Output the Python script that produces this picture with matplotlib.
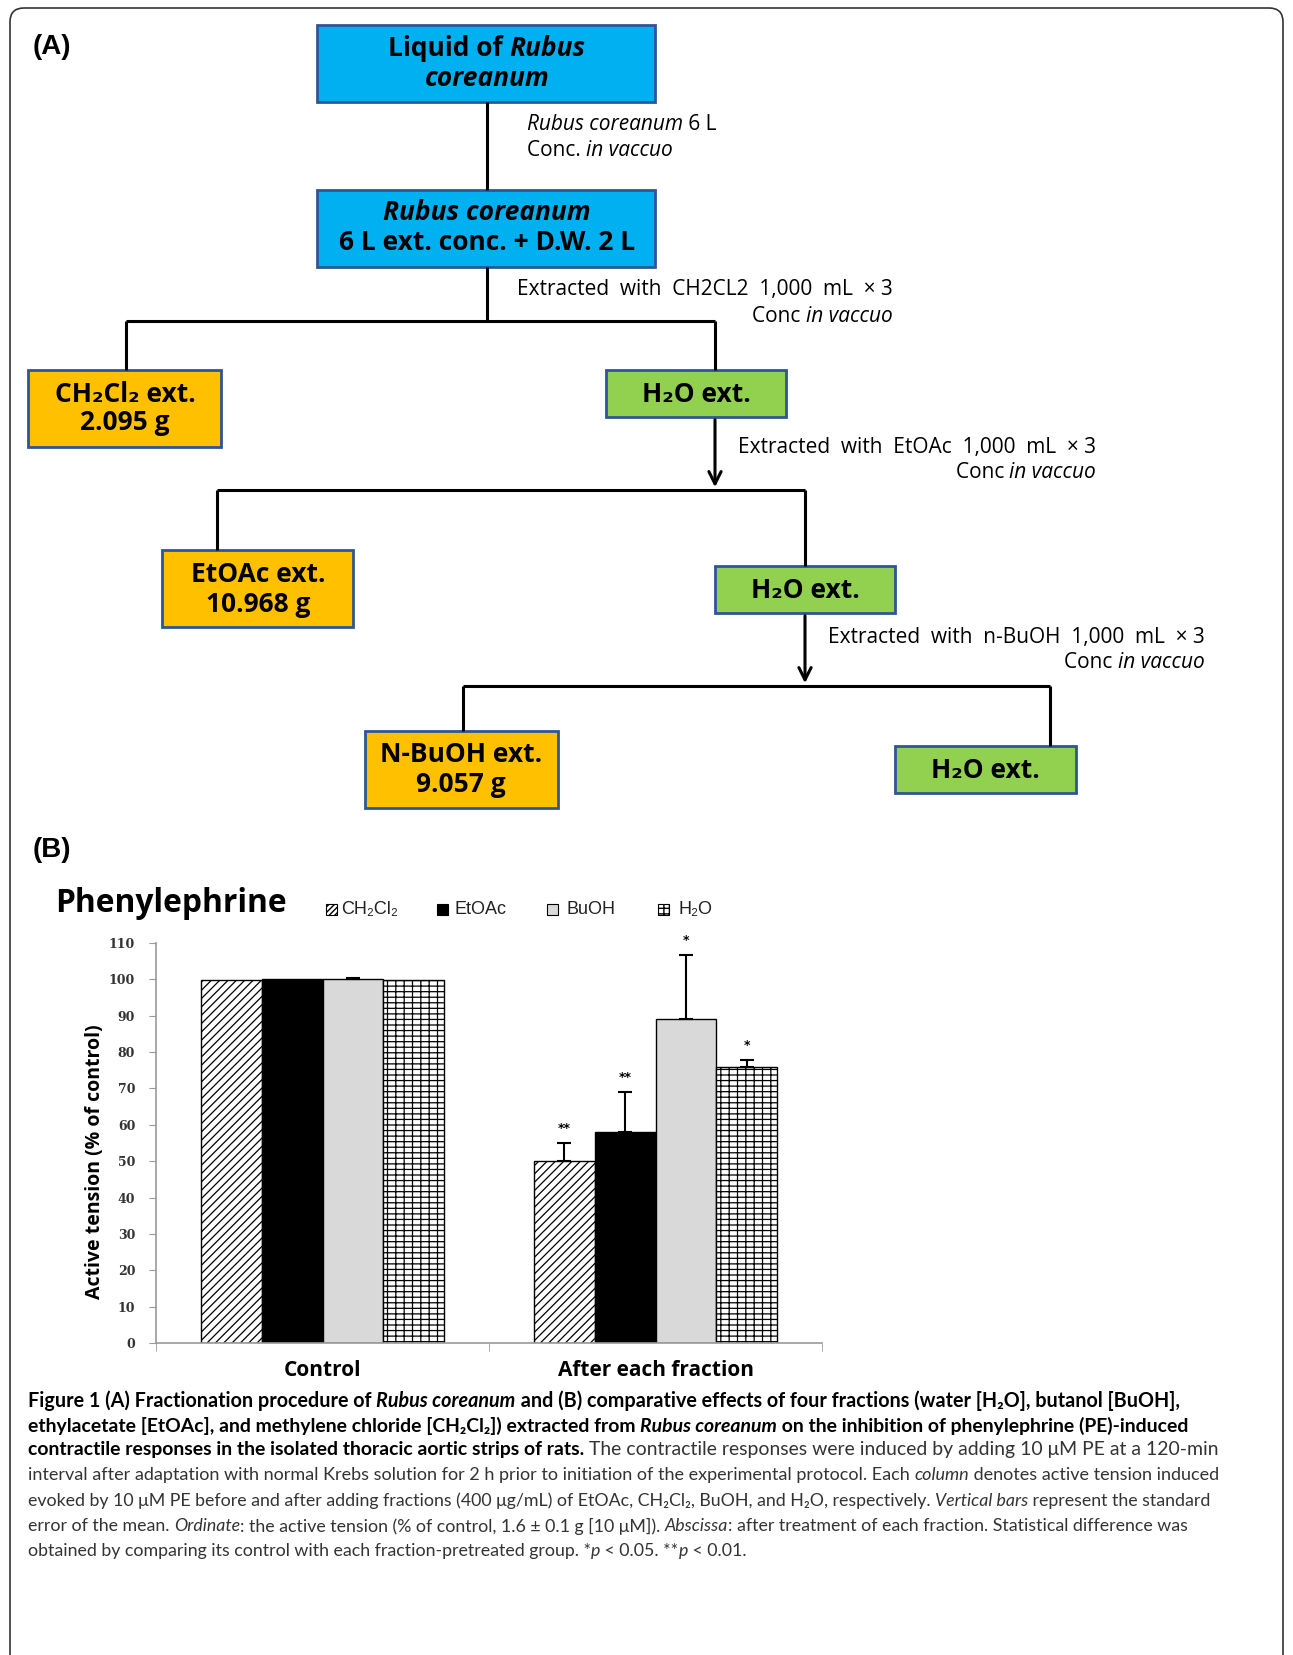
import matplotlib
matplotlib.use('Agg')
import matplotlib.pyplot as plt
from matplotlib.patches import Rectangle, FancyBboxPatch
from matplotlib import font_manager

# ---------------- data ----------------
fractions = ['CH₂Cl₂', 'EtOAc', 'BuOH', 'H₂O']
groups = ['Control', 'After each fraction']
control_vals = [99.8, 100.0, 100.0, 99.8]
control_err = [0.0, 0.0, 0.3, 0.0]
after_vals = [50.0, 58.0, 89.0, 76.0]
after_err = [5.0, 11.0, 17.7, 1.8]
after_sig = ['**', '**', '*', '*']
yticks = list(range(0, 111, 10))

ttf = font_manager.fontManager.ttflist
bold_names = set()
for f in ttf:
    w = f.weight
    if (isinstance(w, str) and w in ('bold', 'heavy', 'black', 'semibold', 'demibold')) or \
            (isinstance(w, (int, float)) and w >= 600):
        bold_names.add(f.name)


def pick(prefs):
    for p in prefs:
        if p in bold_names:
            return p
    return 'DejaVu Sans'


BOX_FONT = pick(['Open Sans', 'Lato', 'Roboto', 'Noto Sans', 'Liberation Sans'])
CAP_FONT = pick(['Liberation Sans Narrow', 'Lato', 'Roboto', 'Open Sans', 'Liberation Sans'])
TITLE_FONT = pick(['Open Sans', 'Lato', 'Roboto', 'Liberation Sans'])

W, H = 1293, 1655
fig = plt.figure(figsize=(W / 100, H / 100), dpi=100)
fig.patch.set_facecolor('white')
ov = fig.add_axes([0, 0, 1, 1])
ov.set_xlim(0, W)
ov.set_ylim(H, 0)
ov.axis('off')
renderer = fig.canvas.get_renderer()

B, I, BI, N = ('bold', 'normal'), ('normal', 'italic'), ('bold', 'italic'), ('normal', 'normal')


def seg_text(x, y, segs, size, family, ha='left', color='black', fit=None, colors=None):
    fam = [family, 'DejaVu Sans']

    def adv(s, st, sz):
        t1 = ov.text(0, 0, '|' + s + '|', fontsize=sz, fontweight=st[0], fontstyle=st[1], family=fam)
        t2 = ov.text(0, 0, '||', fontsize=sz, fontweight=st[0], fontstyle=st[1], family=fam)
        a = t1.get_window_extent(renderer).width - t2.get_window_extent(renderer).width
        t1.remove(); t2.remove()
        return a

    widths = [adv(s, st, size) for s, st in segs]
    total = sum(widths)
    if fit is not None:
        size = size * fit / total
        widths = [adv(s, st, size) for s, st in segs]
        total = sum(widths)
    if ha == 'left':
        cx = x
    elif ha == 'center':
        cx = x - total / 2
    else:
        cx = x - total
    for i, ((s, st), w) in enumerate(zip(segs, widths)):
        c = colors[i] if colors else color
        ov.text(cx, y, s, fontsize=size, fontweight=st[0], fontstyle=st[1], family=fam,
                ha='left', va='center', color=c)
        cx += w
    return size


# outer rounded border
ov.add_patch(FancyBboxPatch((10, 8), 1273, 1670, boxstyle='round,pad=0,rounding_size=14',
                            fc='none', ec='#333333', lw=1.2, clip_on=False))

# ---------------- (A) flowchart ----------------
BLUE, ORANGE, GREEN, EDGE = '#00B0F0', '#FFC000', '#92D050', '#2F5597'
LW = 2.2


def box(x0, y0, x1, y1, fc):
    ov.add_patch(Rectangle((x0, y0), x1 - x0, y1 - y0, fc=fc, ec=EDGE, lw=2))


def line(xs, ys):
    ov.plot(xs, ys, color='black', lw=LW, solid_capstyle='butt')


def arrow(x, y0, y1):
    ov.annotate('', xy=(x, y1), xytext=(x, y0),
                arrowprops=dict(arrowstyle='->', color='black', lw=LW, mutation_scale=22))


BS = 19
AS = 15
ov.text(33, 47, '(A)', fontsize=20, fontweight='bold', family='Liberation Sans', va='center')

box(317, 25, 655, 102, BLUE)
seg_text(487, 49, [('Liquid of ', B), ('Rubus', BI)], BS, BOX_FONT, ha='center')
seg_text(487, 78, [('coreanum', BI)], BS, BOX_FONT, ha='center')
line([487, 487], [102, 190])
seg_text(527, 124, [('Rubus coreanum', I), (' 6 L', N)], AS, BOX_FONT)
seg_text(527, 150, [('Conc. ', N), ('in vaccuo', I)], AS, BOX_FONT)

box(317, 190, 655, 267, BLUE)
seg_text(487, 213, [('Rubus coreanum', BI)], BS, BOX_FONT, ha='center')
seg_text(487, 242, [('6 L ext. conc. + D.W. 2 L', B)], BS, BOX_FONT, ha='center')

line([487, 487], [267, 321])
line([126, 715], [321, 321])
line([126, 126], [321, 370])
line([715, 715], [321, 370])
seg_text(893, 290, [('Extracted  with  CH2CL2  1,000  mL  × 3', N)], AS, BOX_FONT, ha='right')
seg_text(893, 316, [('Conc ', N), ('in vaccuo', I)], AS, BOX_FONT, ha='right')

box(28, 370, 221, 447, ORANGE)
seg_text(125, 394, [('CH₂Cl₂ ext.', B)], BS, BOX_FONT, ha='center')
seg_text(125, 423, [('2.095 g', B)], BS, BOX_FONT, ha='center')

box(606, 370, 786, 417, GREEN)
seg_text(696, 394, [('H₂O ext.', B)], BS, BOX_FONT, ha='center')

arrow(715, 417, 490)
line([217, 805], [490, 490])
line([217, 217], [490, 550])
line([805, 805], [490, 566])
seg_text(1096, 447, [('Extracted  with  EtOAc  1,000  mL  × 3', N)], AS, BOX_FONT, ha='right')
seg_text(1096, 473, [('Conc ', N), ('in vaccuo', I)], AS, BOX_FONT, ha='right')

box(162, 550, 353, 627, ORANGE)
seg_text(258, 575, [('EtOAc ext.', B)], BS, BOX_FONT, ha='center')
seg_text(258, 604, [('10.968 g', B)], BS, BOX_FONT, ha='center')

box(715, 566, 895, 613, GREEN)
seg_text(805, 590, [('H₂O ext.', B)], BS, BOX_FONT, ha='center')

arrow(805, 613, 686)
line([463, 1050], [686, 686])
line([463, 463], [686, 731])
line([1050, 1050], [686, 746])
seg_text(1205, 637, [('Extracted  with  n-BuOH  1,000  mL  × 3', N)], AS, BOX_FONT, ha='right')
seg_text(1205, 663, [('Conc ', N), ('in vaccuo', I)], AS, BOX_FONT, ha='right')

box(365, 731, 558, 808, ORANGE)
seg_text(461, 755, [('N-BuOH ext.', B)], BS, BOX_FONT, ha='center')
seg_text(461, 784, [('9.057 g', B)], BS, BOX_FONT, ha='center')

box(895, 746, 1076, 793, GREEN)
seg_text(985, 770, [('H₂O ext.', B)], BS, BOX_FONT, ha='center')

# ---------------- (B) bar chart ----------------
ov.text(33, 850, '(B)', fontsize=20, fontweight='bold', family='Liberation Sans', va='center')
seg_text(55, 903, [('Phenylephrine', B)], 24, TITLE_FONT, fit=232)

faces = ['white', 'black', '#D9D9D9', 'white']
hatches = ['////', '', '', '++-']
leg_hatches = ['//////', '', '', '+++']

leg_sq = [326, 437, 547, 658]
leg_tx = [341, 455, 567, 679]
for sx, tx, lab, fc, hh in zip(leg_sq, leg_tx, fractions, faces, leg_hatches):
    ov.add_patch(Rectangle((sx, 904), 11, 11, fc=fc, ec='black', lw=0.8,
                           hatch=hh if hh else None))
    ov.text(tx, 909, lab, fontsize=13, family=['Liberation Sans', 'DejaVu Sans'], va='center',
            color='#222222')

bx = fig.add_axes([156 / W, (H - 1343) / H, (822 - 156) / W, 400 / H])
bx.set_xlim(-0.5, 1.5)
bx.set_ylim(0, 110)
bw = 0.1825
offsets = [-1.5, -0.5, 0.5, 1.5]
plt.rcParams['hatch.linewidth'] = 0.9
for gi, (vals, errs) in enumerate([(control_vals, control_err), (after_vals, after_err)]):
    for k in range(4):
        xk = gi + offsets[k] * bw
        bx.bar(xk, vals[k], width=bw, color=faces[k], edgecolor='black', lw=1.0,
               hatch=hatches[k] if hatches[k] else None, zorder=2)
        if errs[k] > 0:
            bx.errorbar(xk, vals[k], yerr=[[0], [errs[k]]], fmt='none', ecolor='black',
                        elinewidth=1.5, capsize=5, capthick=1.5, zorder=3)
for k in range(4):
    xk = 1 + offsets[k] * bw
    bx.text(xk, after_vals[k] + after_err[k] + 2.2, after_sig[k], ha='center', va='bottom',
            fontsize=9, fontweight='bold', family='DejaVu Sans')

for s in ['top', 'right']:
    bx.spines[s].set_visible(False)
for s in ['left', 'bottom']:
    bx.spines[s].set_color('#999999')
    bx.spines[s].set_linewidth(1.2)
bx.set_yticks(yticks)
bx.set_yticklabels([str(v) for v in yticks], fontsize=9, fontweight='bold',
                   family='DejaVu Serif', color='#333333')
bx.tick_params(axis='y', length=5, color='#999999', pad=10)
bx.set_xticks([0, 1])
bx.set_xticklabels(groups, fontsize=15, fontweight='bold', family=TITLE_FONT)
bx.tick_params(axis='x', length=0, pad=12)
bx.set_xticks([-0.5, 0.5, 1.5], minor=True)
bx.tick_params(axis='x', which='minor', length=6, color='#999999')
bx.patch.set_alpha(0)

ov.text(95, 1162, 'Active tension (% of control)', rotation=90, fontsize=14, fontweight='bold',
        family=TITLE_FONT, ha='center', va='center')

# ---------------- caption ----------------
cap_lines = [
    [('Figure 1 (A) Fractionation procedure of ', B), ('Rubus coreanum', BI),
     (' and (B) comparative effects of four fractions (water [H₂O], butanol [BuOH],', B)],
    [('ethylacetate [EtOAc], and methylene chloride [CH₂Cl₂]) extracted from ', B),
     ('Rubus coreanum', BI), (' on the inhibition of phenylephrine (PE)-induced', B)],
    [('contractile responses in the isolated thoracic aortic strips of rats.', B),
     (' The contractile responses were induced by adding 10 μM PE at a 120-min', N)],
    [('interval after adaptation with normal Krebs solution for 2 h prior to initiation of the experimental protocol. Each ', N),
     ('column', I), (' denotes active tension induced', N)],
    [('evoked by 10 μM PE before and after adding fractions (400 μg/mL) of EtOAc, CH₂Cl₂, BuOH, and H₂O, respectively. ', N),
     ('Vertical bars', I), (' represent the standard', N)],
    [('error of the mean. ', N), ('Ordinate', I), (': the active tension (% of control, 1.6 ± 0.1 g [10 μM]). ', N),
     ('Abscissa', I), (': after treatment of each fraction. Statistical difference was', N)],
    [('obtained by comparing its control with each fraction-pretreated group. *', N), ('p', I),
     (' < 0.05. **', N), ('p', I), (' < 0.01.', N)],
]
cap_y = [1401, 1426, 1450, 1475, 1501, 1526, 1551]
cap_fit = [1147, 1155, 1185, 1184, 1175, 1155, None]
last = 13
for segs, yy, ft in zip(cap_lines, cap_y, cap_fit):
    cols = ['black' if st[0] == 'bold' else '#333333' for _, st in segs]
    if ft:
        last = seg_text(28, yy, segs, 13, CAP_FONT, fit=ft, colors=cols)
    else:
        seg_text(28, yy, segs, last, CAP_FONT, colors=cols)

fig.savefig('out.png', dpi=100)
